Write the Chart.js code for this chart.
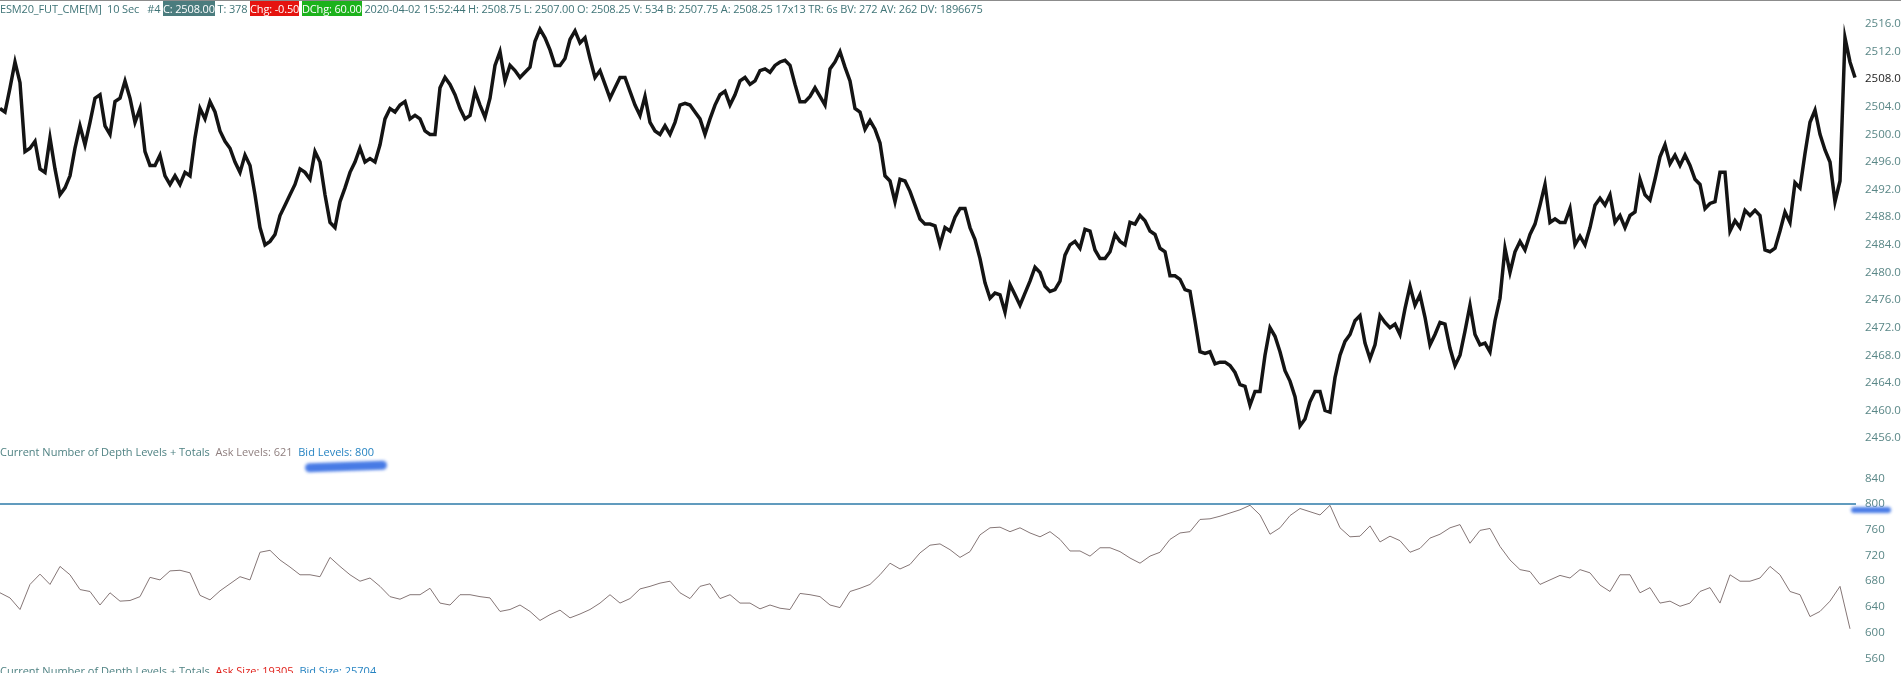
<!DOCTYPE html>
<html>
<head>
<meta charset="utf-8">
<script src="https://cdn.jsdelivr.net/npm/chart.js@4.4.1/dist/chart.umd.min.js"></script>
<style>
  html, body { margin: 0; padding: 0; background: #fff; }
  body { width: 1901px; height: 673px; position: relative; overflow: hidden; font-family: "Open Sans", sans-serif; }
  #topline { position: absolute; left: 0; top: 0; width: 1901px; height: 1px; background: #8c8c8c; }
  .txt { position: absolute; left: 0; font-size: 11px; line-height: 15px; white-space: pre; color: #3f7477; z-index: 3; }
  #header { top: 1px; letter-spacing: -0.15px; }
  #depthTitle { top: 444px; color: #4f8283; }
  #sizeTitle { top: 663px; color: #4f8283; }
  .box { color: #fff; }
  .teal { background: #4b7c7e; }
  .red { background: #e5140f; }
  .green { background: #1cb21c; }
  .ask { color: #8f7f7f; }
  .bid { color: #2784c2; }
  .askRed { color: #e0201a; }
  canvas { position: absolute; left: 0; }
  #priceChart { top: 0; }
  #depthChart { top: 450px; }
  .scribble { position: absolute; background: #356de3; border-radius: 5px; filter: blur(1.6px); opacity: 0.9; z-index: 4; }
</style>
</head>
<body>
<div id="topline"></div>
<div id="header" class="txt">ESM20_FUT_CME[M]  10 Sec   #4 <span class="box teal">C: 2508.00</span> T: 378 <span class="box red">Chg: -0.50</span> <span class="box green">DChg: 60.00</span> 2020-04-02 15:52:44 H: 2508.75 L: 2507.00 O: 2508.25 V: 534 B: 2507.75 A: 2508.25 17x13 TR: 6s BV: 272 AV: 262 DV: 1896675</div>
<div id="depthTitle" class="txt">Current Number of Depth Levels + Totals  <span class="ask">Ask Levels: 621</span>  <span class="bid">Bid Levels: 800</span></div>
<div id="sizeTitle" class="txt">Current Number of Depth Levels + Totals  <span class="askRed">Ask Size: 19305</span>  <span class="bid">Bid Size: 25704</span></div>
<div class="scribble" style="left:305px;top:462px;width:82px;height:9px;transform:rotate(-2deg);"></div>
<div class="scribble" style="left:1851px;top:507px;width:40px;height:6px;"></div>

<canvas id="priceChart" width="1901" height="450"></canvas>
<canvas id="depthChart" width="1901" height="223"></canvas>

<script>
// 10 sec bars, one reading every few bars
const priceTicks = [2456, 2460, 2464, 2468, 2472, 2476, 2480, 2484, 2488, 2492, 2496, 2500, 2504, 2508, 2512, 2516];
const depthTicks = [560, 600, 640, 680, 720, 760, 800, 840];
const lastTick = 2508;

const priceValues = [
    2503.75, 2503.25, 2506.75, 2510.5, 2507.5, 2497.5, 2498, 2499, 2495, 2494.5,
    2499.5, 2495, 2491.25, 2492.25, 2494, 2498, 2501.25, 2498.5, 2501.75, 2505.25,
    2505.75, 2501.25, 2500, 2504.75, 2505.25, 2507.75, 2505.25, 2501.75, 2503.75, 2497.5,
    2495.5, 2495.5, 2497, 2494, 2492.75, 2494, 2492.75, 2494.5, 2494, 2499.5,
    2503.75, 2502.25, 2504.75, 2503.25, 2500.5, 2499, 2498, 2496, 2494.5, 2497,
    2495.5, 2491.25, 2486.5, 2484, 2484.5, 2485.5, 2488.25, 2489.75, 2491.25, 2492.75,
    2495, 2494.5, 2493.5, 2497.5, 2496, 2491.25, 2487.25, 2486.5, 2490.25, 2492.25,
    2494.5, 2496, 2498, 2496, 2496.5, 2496, 2498.5, 2502.25, 2503.75, 2503.25,
    2504.25, 2504.75, 2502.25, 2502.75, 2502.25, 2500.5, 2500, 2500, 2506.75, 2508.25,
    2507.25, 2505.75, 2503.75, 2502.25,
    2502.75, 2506.25, 2504.25, 2502.5, 2505.25, 2510, 2512, 2507.75, 2510, 2509.25,
    2508.25, 2509, 2509.75, 2513.5, 2515.25, 2514, 2512.25, 2510, 2510, 2511,
    2513.75, 2515, 2513.25, 2514, 2511, 2508.25, 2509.25, 2507.25, 2505.25, 2506.75,
    2508.25, 2508.25, 2506.25, 2504.25, 2502.75, 2505.5, 2501.75, 2500.5, 2500, 2501.25,
    2500, 2501.75, 2504.25, 2504.5, 2504.25, 2503.25, 2502.25, 2500, 2502.25, 2504.25,
    2505.75, 2506.25, 2504.25, 2505.75, 2507.75, 2508.25, 2507.25, 2507.75, 2509.25, 2509.5,
    2509, 2510, 2510.5, 2510.75, 2510, 2507.25, 2504.75, 2504.75, 2505.5, 2506.75,
    2505.5, 2504.25, 2509.5, 2510.5, 2512, 2509.75, 2507.75, 2503.75, 2503.25, 2500.75,
    2502, 2500.75, 2498.75, 2494, 2493.25, 2490.25, 2493.5, 2493.25, 2491.75, 2489.75,
    2487.75, 2487,
    2487, 2486.75, 2484, 2486.5, 2486, 2488, 2489.25, 2489.25, 2486.5, 2484.75,
    2482, 2478.5, 2476.25, 2477, 2476.75, 2474.25, 2478.25, 2476.75, 2475.25, 2477,
    2478.75, 2480.75, 2480, 2478, 2477.25, 2477.5, 2478.75, 2482.5, 2484, 2484.5,
    2483.5, 2486.25, 2486, 2483.25, 2482, 2482, 2483, 2485.5, 2484.5, 2484,
    2487.25, 2487, 2488.25, 2487.5, 2486, 2485.5, 2483.5, 2483, 2479.5, 2479.5,
    2479, 2477.5, 2477.25, 2473, 2468.5, 2468.25, 2468.5, 2466.75, 2467, 2467,
    2466.5, 2465.5, 2463.75, 2463.5, 2460.75, 2462.75, 2462.75, 2468, 2472, 2470.75,
    2468.5, 2465.75, 2464.25, 2462, 2457.75, 2458.75, 2461.25, 2462.75, 2462.75, 2460,
    2459.75, 2464.75, 2468, 2470, 2471, 2473, 2473.75, 2469.75, 2467.5, 2469.5,
    2473.75, 2472.75,
    2472, 2472.5, 2471, 2474.75, 2478, 2475.25, 2476.75, 2473.5, 2469.5, 2471,
    2472.75, 2472.5, 2469, 2466.5, 2468, 2471.5, 2475.25, 2471, 2469.5, 2469.75,
    2468.5, 2473, 2476.25, 2483.5, 2480, 2483, 2484.5, 2483.25, 2485.5, 2487,
    2489.75, 2492.75, 2487.25, 2487.75, 2487.25, 2487.25, 2489.25, 2484, 2485.25, 2484,
    2486.5, 2489.75, 2490.75, 2489.75, 2491.25, 2487.25, 2488.25, 2486.5, 2488.25, 2488.75,
    2493.5, 2491.25, 2490.5, 2493.5, 2496.75, 2498.5, 2495.75, 2497, 2495.5, 2497,
    2495.5, 2493.5, 2492.75, 2489.25, 2490, 2490.25, 2494.5, 2494.5, 2486, 2487.5,
    2486.5, 2489, 2488.25, 2489, 2488.25, 2483.25, 2483, 2483.5, 2486, 2488.75,
    2487.25, 2493, 2492.25, 2497.25, 2501.75, 2503.5, 2500, 2497.75, 2496, 2490.25,
    2493.25, 2514, 2510.5, 2508.25
];

const askLevels = [
    662, 654, 636, 675, 691, 675, 703, 690, 667, 664,
    643, 662, 649, 650, 656, 686, 682, 696, 697, 693,
    658, 651, 665, 676, 687, 682, 725, 728, 713, 702,
    690, 690, 687, 717, 703, 690, 680, 685, 672, 656,
    652, 659, 659, 669, 646, 643, 659, 659, 656, 654,
    633, 636, 643, 633, 619, 628, 635, 623, 629, 636,
    646, 659, 646,
    653, 668, 672, 677, 680, 662, 653, 672, 676, 653,
    659, 646, 646, 637, 643, 638, 636, 661, 659, 656,
    643, 639, 664, 669, 675, 690, 708, 699, 706, 724,
    736, 738, 729, 717, 726, 752, 763, 764, 757, 763,
    755, 749, 757, 745, 727, 727, 719, 732, 732, 726,
    716, 708, 719, 725, 745, 755, 757, 776, 777, 781,
    786, 791,
    798, 783, 753, 763, 782, 793, 788, 783, 798, 763,
    749, 750, 766, 741, 750, 743, 725, 731, 747, 753,
    763, 768, 739, 759, 762, 734, 713, 698, 695, 675,
    682, 689, 685, 698, 693, 674, 664, 690, 690, 662,
    670, 646, 649, 641, 646, 664, 670, 646, 690, 680,
    680, 685, 703, 690, 664, 659, 625, 633, 649, 672,
    606
];

// bid levels sat flat at 800 the whole session
const bidLevels = [800, 800];

function rightAxisFit(scale) {
    scale.width = 43;
    scale.paddingTop = 0;
    scale.paddingBottom = 0;
}

const tickFont = { family: 'Open Sans', size: 11.5 };

new Chart(document.getElementById('priceChart'), {
    type: 'line',
    data: {
        datasets: [{
            data: priceValues.map((v, i) => ({ x: i, y: v })),
            borderColor: '#141414',
            borderWidth: 3.5,
            pointRadius: 0,
            tension: 0
        }, {
            data: priceValues.map((v, i) => ({ x: i, y: v })),
            borderColor: '#6e6e6e',
            borderWidth: 1,
            pointRadius: 0,
            tension: 0
        }]
    },
    options: {
        responsive: false,
        animation: false,
        events: [],
        layout: { padding: { top: 20, bottom: 5, left: 0, right: 0 } },
        plugins: { legend: { display: false }, tooltip: { enabled: false } },
        scales: {
            x: { type: 'linear', min: 0, max: 371.6, display: false },
            y: {
                position: 'right',
                min: 2454.99,
                max: 2516.58,
                grid: { display: false, drawTicks: false },
                border: { display: false },
                afterBuildTicks: s => { s.ticks = priceTicks.map(v => ({ value: v })); },
                afterFit: rightAxisFit,
                ticks: {
                    padding: 7,
                    font: tickFont,
                    color: ctx => ctx.tick.value === lastTick ? '#1c1c1c' : '#5a8787',
                    callback: v => v.toFixed(2)
                }
            }
        }
    }
});

new Chart(document.getElementById('depthChart'), {
    type: 'line',
    data: {
        datasets: [{
            data: askLevels.map((v, i) => ({ x: i, y: v })),
            borderColor: '#857676',
            borderWidth: 1,
            pointRadius: 0,
            tension: 0
        }, {
            data: bidLevels.map((v, i) => ({ x: i * (askLevels.length - 1 + 0.6), y: v })),
            borderColor: '#2d7aa8',
            borderWidth: 1.3,
            pointRadius: 0,
            tension: 0
        }]
    },
    options: {
        responsive: false,
        animation: false,
        events: [],
        layout: { padding: { top: 12, bottom: 9, left: 0, right: 0 } },
        plugins: { legend: { display: false }, tooltip: { enabled: false } },
        scales: {
            x: { type: 'linear', min: 0, max: 185.8, display: false },
            y: {
                position: 'right',
                min: 551.3,
                max: 865.3,
                grid: { display: false, drawTicks: false },
                border: { display: false },
                afterBuildTicks: s => { s.ticks = depthTicks.map(v => ({ value: v })); },
                afterFit: rightAxisFit,
                ticks: {
                    padding: 7,
                    font: tickFont,
                    color: '#5a8787',
                    callback: v => String(v)
                }
            }
        }
    }
});
</script>
</body>
</html>
